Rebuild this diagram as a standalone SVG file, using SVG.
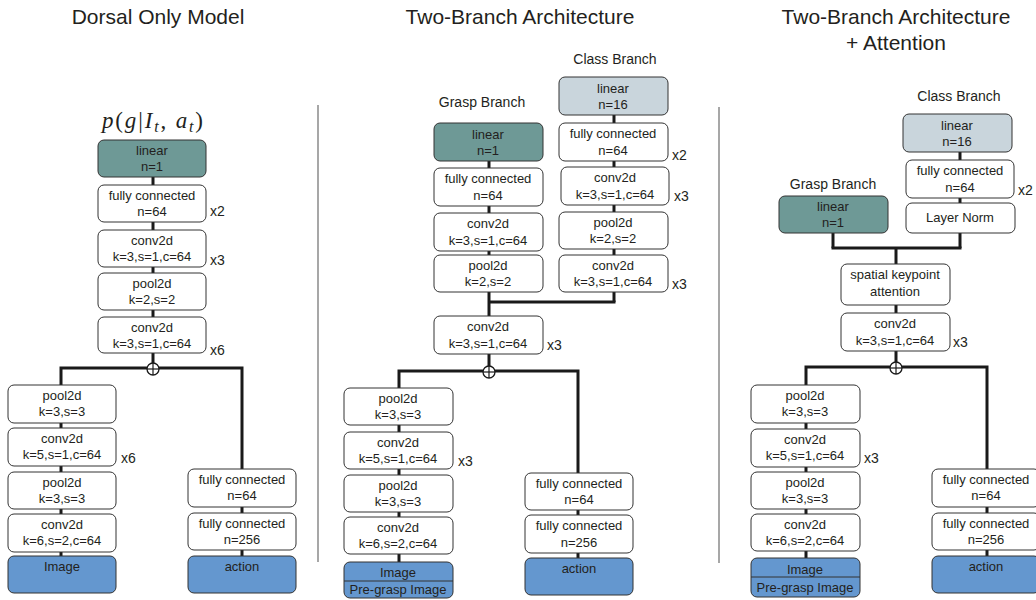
<svg xmlns="http://www.w3.org/2000/svg" width="1036" height="600" viewBox="0 0 1036 600">
<style>
text{font-family:"Liberation Sans",Arial,sans-serif;fill:#231f20}
.title{font-size:21px;text-anchor:middle}
.branch{font-size:14px;text-anchor:middle}
.t{font-size:13px;text-anchor:middle}
.rep{font-size:14px}
.box{fill:#fff;stroke:#333;stroke-width:1}
.teal{fill:#6e9996;stroke:#333;stroke-width:1}
.gray{fill:#c9d5dc;stroke:#333;stroke-width:1}
.blue{fill:#6497cf;stroke:#333;stroke-width:1}
.wire{stroke:#1a1a1a;stroke-width:3;fill:none}
.sep{stroke:#8a8a8a;stroke-width:1.5}
.sum{fill:#fff;stroke:#1a1a1a;stroke-width:1.3}
.plus{stroke:#1a1a1a;stroke-width:1.2}
.math{font-family:"Liberation Serif","Times New Roman",serif;font-size:23px}
</style>
<rect width="1036" height="600" fill="#fff"/>
<!-- titles -->
<text class="title" x="158" y="24">Dorsal Only Model</text>
<text class="title" x="520" y="24">Two-Branch Architecture</text>
<text class="title" x="896" y="24">Two-Branch Architecture</text>
<text class="title" x="896" y="50">+ Attention</text>
<text class="math" x="102" y="128" textLength="101" lengthAdjust="spacing"><tspan font-style="italic">p</tspan>(<tspan font-style="italic">g</tspan>|<tspan font-style="italic">I</tspan><tspan font-style="italic" font-size="16" dy="4">t</tspan><tspan dy="-4">, </tspan><tspan font-style="italic">a</tspan><tspan font-style="italic" font-size="16" dy="4">t</tspan><tspan dy="-4">)</tspan></text>
<line class="sep" x1="318" y1="105" x2="318" y2="562"/>
<line class="sep" x1="719" y1="107" x2="719" y2="563"/>
<text class="branch" x="615" y="64">Class Branch</text>
<text class="branch" x="482" y="107">Grasp Branch</text>
<text class="branch" x="959" y="101">Class Branch</text>
<text class="branch" x="833" y="189">Grasp Branch</text>

<g id="connectors">
  <!-- left panel -->
  <line class="wire" x1="153" y1="177" x2="153" y2="368"/>
  <polyline class="wire" points="61,556 61,368 242,368 242,556"/>
  <!-- middle panel -->
  <line class="wire" x1="614" y1="115" x2="614" y2="302"/>
  <line class="wire" x1="489" y1="161" x2="489" y2="371"/>
  <line class="wire" x1="489" y1="302" x2="615.5" y2="302"/>
  <polyline class="wire" points="399,562 399,371 578,371 578,558"/>
  <!-- right panel -->
  <line class="wire" x1="960" y1="152" x2="960" y2="248"/>
  <line class="wire" x1="833" y1="233" x2="833" y2="248"/>
  <line class="wire" x1="831.5" y1="248" x2="961.5" y2="248"/>
  <line class="wire" x1="896" y1="248" x2="896" y2="368"/>
  <polyline class="wire" points="806,558 806,367 987,367 987,556"/>
  <!-- sum junctions -->
  <g id="sum-left"><circle class="sum" cx="153" cy="369" r="6"/><line class="plus" x1="147" y1="369" x2="159" y2="369"/><line class="plus" x1="153" y1="363" x2="153" y2="375"/></g>
  <g id="sum-mid"><circle class="sum" cx="489" cy="372" r="6"/><line class="plus" x1="483" y1="372" x2="495" y2="372"/><line class="plus" x1="489" y1="366" x2="489" y2="378"/></g>
  <g id="sum-right"><circle class="sum" cx="896" cy="368" r="6"/><line class="plus" x1="890" y1="368" x2="902" y2="368"/><line class="plus" x1="896" y1="362" x2="896" y2="374"/></g>
</g>

<!-- ===== Left panel: Dorsal Only Model ===== -->
<g id="L-linear"><rect class="teal" x="98" y="140" width="108" height="37" rx="6"/><text class="t" x="152" y="155">linear</text><text class="t" x="152" y="171">n=1</text></g>
<g id="L-fc"><rect class="box" x="98" y="185" width="108" height="37" rx="6"/><text class="t" x="152" y="200">fully connected</text><text class="t" x="152" y="216">n=64</text><text class="rep" x="210" y="216">x2</text></g>
<g id="L-conv1"><rect class="box" x="98" y="230" width="108" height="37" rx="6"/><text class="t" x="152" y="245">conv2d</text><text class="t" x="152" y="261">k=3,s=1,c=64</text><text class="rep" x="210" y="265">x3</text></g>
<g id="L-pool1"><rect class="box" x="98" y="273" width="108" height="37" rx="6"/><text class="t" x="152" y="288">pool2d</text><text class="t" x="152" y="304">k=2,s=2</text></g>
<g id="L-conv2"><rect class="box" x="98" y="317" width="108" height="36" rx="6"/><text class="t" x="152" y="332">conv2d</text><text class="t" x="152" y="348">k=3,s=1,c=64</text><text class="rep" x="210" y="355">x6</text></g>
<g id="L-pool2"><rect class="box" x="8" y="385" width="108" height="38" rx="6"/><text class="t" x="62" y="400">pool2d</text><text class="t" x="62" y="416">k=3,s=3</text></g>
<g id="L-conv3"><rect class="box" x="8" y="428" width="108" height="38" rx="6"/><text class="t" x="62" y="443">conv2d</text><text class="t" x="62" y="459">k=5,s=1,c=64</text><text class="rep" x="121" y="463">x6</text></g>
<g id="L-pool3"><rect class="box" x="8" y="472" width="108" height="37" rx="6"/><text class="t" x="62" y="487">pool2d</text><text class="t" x="62" y="503">k=3,s=3</text></g>
<g id="L-conv4"><rect class="box" x="8" y="514" width="108" height="38" rx="6"/><text class="t" x="62" y="529">conv2d</text><text class="t" x="62" y="545">k=6,s=2,c=64</text></g>
<g id="L-image"><rect class="blue" x="8" y="556" width="108" height="37" rx="6"/><text class="t" x="62" y="571">Image</text></g>
<g id="L-fc64"><rect class="box" x="188" y="469" width="108" height="38" rx="6"/><text class="t" x="242" y="484">fully connected</text><text class="t" x="242" y="500">n=64</text></g>
<g id="L-fc256"><rect class="box" x="188" y="513" width="108" height="37" rx="6"/><text class="t" x="242" y="528">fully connected</text><text class="t" x="242" y="544">n=256</text></g>
<g id="L-action"><rect class="blue" x="188" y="556" width="108" height="37" rx="6"/><text class="t" x="242" y="571">action</text></g>

<!-- ===== Middle panel: Two-Branch ===== -->
<g id="M-class-linear"><rect class="gray" x="559" y="77" width="109" height="38" rx="6"/><text class="t" x="613" y="93">linear</text><text class="t" x="613" y="109">n=16</text></g>
<g id="M-grasp-linear"><rect class="teal" x="434" y="123" width="109" height="38" rx="6"/><text class="t" x="488" y="139">linear</text><text class="t" x="488" y="155">n=1</text></g>
<g id="M-class-fc"><rect class="box" x="559" y="123" width="109" height="38" rx="6"/><text class="t" x="613" y="138">fully connected</text><text class="t" x="613" y="155">n=64</text><text class="rep" x="672" y="160">x2</text></g>
<g id="M-grasp-fc"><rect class="box" x="434" y="168" width="109" height="38" rx="6"/><text class="t" x="488" y="183">fully connected</text><text class="t" x="488" y="200">n=64</text></g>
<g id="M-class-conv1"><rect class="box" x="561" y="167" width="108" height="38" rx="6"/><text class="t" x="615" y="182">conv2d</text><text class="t" x="615" y="199">k=3,s=1,c=64</text><text class="rep" x="674" y="201">x3</text></g>
<g id="M-grasp-conv"><rect class="box" x="434" y="213" width="109" height="38" rx="6"/><text class="t" x="488" y="228">conv2d</text><text class="t" x="488" y="245">k=3,s=1,c=64</text></g>
<g id="M-class-pool"><rect class="box" x="559" y="212" width="109" height="37" rx="6"/><text class="t" x="613" y="227">pool2d</text><text class="t" x="613" y="243">k=2,s=2</text></g>
<g id="M-grasp-pool"><rect class="box" x="434" y="255" width="109" height="37" rx="6"/><text class="t" x="488" y="270">pool2d</text><text class="t" x="488" y="286">k=2,s=2</text></g>
<g id="M-class-conv2"><rect class="box" x="559" y="255" width="109" height="37" rx="6"/><text class="t" x="613" y="270">conv2d</text><text class="t" x="613" y="286">k=3,s=1,c=64</text><text class="rep" x="672" y="289">x3</text></g>
<g id="M-conv"><rect class="box" x="434" y="316" width="109" height="38" rx="6"/><text class="t" x="488" y="331">conv2d</text><text class="t" x="488" y="348">k=3,s=1,c=64</text><text class="rep" x="547" y="350">x3</text></g>
<g id="M-pool2"><rect class="box" x="344" y="388" width="109" height="37" rx="6"/><text class="t" x="398" y="403">pool2d</text><text class="t" x="398" y="419">k=3,s=3</text></g>
<g id="M-conv3"><rect class="box" x="344" y="432" width="109" height="37" rx="6"/><text class="t" x="398" y="447">conv2d</text><text class="t" x="398" y="463">k=5,s=1,c=64</text><text class="rep" x="458" y="466">x3</text></g>
<g id="M-pool3"><rect class="box" x="344" y="475" width="109" height="37" rx="6"/><text class="t" x="398" y="490">pool2d</text><text class="t" x="398" y="506">k=3,s=3</text></g>
<g id="M-conv4"><rect class="box" x="344" y="517" width="109" height="37" rx="6"/><text class="t" x="398" y="532">conv2d</text><text class="t" x="398" y="548">k=6,s=2,c=64</text></g>
<g id="M-image"><rect class="blue" x="344" y="562" width="109" height="36" rx="6"/><line x1="344" y1="581" x2="453" y2="581" stroke="#333" stroke-width="1"/><text class="t" x="398" y="577">Image</text><text class="t" x="398" y="594">Pre-grasp Image</text></g>
<g id="M-fc64"><rect class="box" x="525" y="473" width="108" height="37" rx="6"/><text class="t" x="579" y="488">fully connected</text><text class="t" x="579" y="504">n=64</text></g>
<g id="M-fc256"><rect class="box" x="525" y="515" width="108" height="38" rx="6"/><text class="t" x="579" y="530">fully connected</text><text class="t" x="579" y="547">n=256</text></g>
<g id="M-action"><rect class="blue" x="525" y="558" width="108" height="37" rx="6"/><text class="t" x="579" y="573">action</text></g>

<!-- ===== Right panel: Two-Branch + Attention ===== -->
<g id="R-class-linear"><rect class="gray" x="903" y="114" width="109" height="38" rx="6"/><text class="t" x="957" y="130">linear</text><text class="t" x="957" y="146">n=16</text></g>
<g id="R-class-fc"><rect class="box" x="906" y="160" width="108" height="38" rx="6"/><text class="t" x="960" y="175">fully connected</text><text class="t" x="960" y="192">n=64</text><text class="rep" x="1018" y="195">x2</text></g>
<g id="R-layernorm"><rect class="box" x="906" y="203" width="109" height="30" rx="6"/><text class="t" x="960" y="222">Layer Norm</text></g>
<g id="R-grasp-linear"><rect class="teal" x="779" y="196" width="109" height="37" rx="6"/><text class="t" x="833" y="211">linear</text><text class="t" x="833" y="227">n=1</text></g>
<g id="R-attention"><rect class="box" x="841" y="264" width="109" height="41" rx="6"/><text class="t" x="895" y="279">spatial keypoint</text><text class="t" x="895" y="296">attention</text></g>
<g id="R-conv"><rect class="box" x="841" y="313" width="109" height="38" rx="6"/><text class="t" x="895" y="328">conv2d</text><text class="t" x="895" y="345">k=3,s=1,c=64</text><text class="rep" x="953" y="347">x3</text></g>
<g id="R-pool2"><rect class="box" x="751" y="385" width="109" height="38" rx="6"/><text class="t" x="805" y="400">pool2d</text><text class="t" x="805" y="416">k=3,s=3</text></g>
<g id="R-conv3"><rect class="box" x="751" y="429" width="109" height="38" rx="6"/><text class="t" x="805" y="444">conv2d</text><text class="t" x="805" y="460">k=5,s=1,c=64</text><text class="rep" x="864" y="463">x3</text></g>
<g id="R-pool3"><rect class="box" x="751" y="472" width="109" height="37" rx="6"/><text class="t" x="805" y="487">pool2d</text><text class="t" x="805" y="503">k=3,s=3</text></g>
<g id="R-conv4"><rect class="box" x="751" y="514" width="109" height="37" rx="6"/><text class="t" x="805" y="529">conv2d</text><text class="t" x="805" y="545">k=6,s=2,c=64</text></g>
<g id="R-image"><rect class="blue" x="751" y="558" width="109" height="39" rx="6"/><line x1="751" y1="577" x2="860" y2="577" stroke="#333" stroke-width="1"/><text class="t" x="805" y="574">Image</text><text class="t" x="805" y="592">Pre-grasp Image</text></g>
<g id="R-fc64"><rect class="box" x="932" y="469" width="108" height="38" rx="6"/><text class="t" x="986" y="484">fully connected</text><text class="t" x="986" y="500">n=64</text></g>
<g id="R-fc256"><rect class="box" x="932" y="513" width="108" height="37" rx="6"/><text class="t" x="986" y="528">fully connected</text><text class="t" x="986" y="544">n=256</text></g>
<g id="R-action"><rect class="blue" x="932" y="556" width="108" height="37" rx="6"/><text class="t" x="986" y="571">action</text></g>
</svg>
